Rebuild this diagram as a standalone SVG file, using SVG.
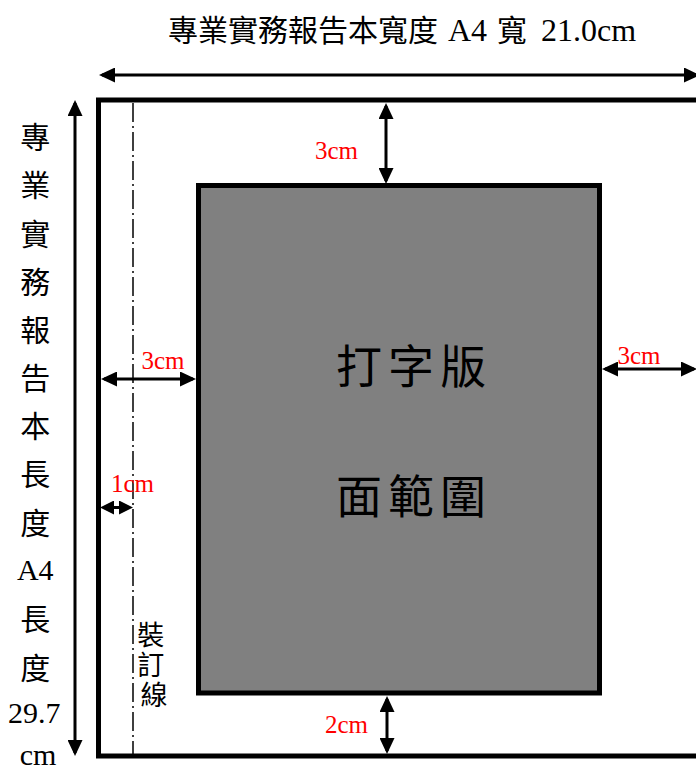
<svg xmlns="http://www.w3.org/2000/svg" width="696" height="771" viewBox="0 0 696 771">
  <style>
    .cjk { font-family: "Liberation Serif", "Noto Sans CJK TC", sans-serif; fill: #000; }
    .red { font-family: "Liberation Serif", "Noto Sans CJK TC", serif; fill: #FF0000; font-size: 25px; }
    .dim { stroke: #000; stroke-width: 3; fill: none; marker-start: url(#ah); marker-end: url(#ah); }
    .dim-s { stroke: #000; stroke-width: 3; fill: none; marker-start: url(#ahs); marker-end: url(#ahs); }
  </style>
  <defs>
    <marker id="ah" markerUnits="userSpaceOnUse" markerWidth="16" markerHeight="15" refX="13" refY="7.5" orient="auto-start-reverse" viewBox="0 0 16 15">
      <path d="M0,0 L16,7.5 L0,15 z" fill="#000"/>
    </marker>
    <marker id="ahs" markerUnits="userSpaceOnUse" markerWidth="14" markerHeight="14" refX="11" refY="7" orient="auto-start-reverse" viewBox="0 0 14 14">
      <path d="M0,0 L14,7 L0,14 z" fill="#000"/>
    </marker>
  </defs>
  <rect x="0" y="0" width="696" height="771" fill="#fff"/>

  <g id="title">
    <text class="cjk" y="41" font-size="30"><tspan x="168">專業實務報告本寬度</tspan><tspan x="448" font-size="32">A4</tspan><tspan x="497">寬</tspan><tspan x="541" font-size="32">21.0cm</tspan></text>
  </g>

  <g id="page">
    <rect x="98.5" y="100" width="640" height="656" fill="#fff" stroke="#000" stroke-width="5"/>
  </g>

  <g id="gutter-line">
    <line x1="133" y1="103" x2="133" y2="754" stroke="#000" stroke-width="1.5" stroke-dasharray="19 4 2 4"/>
  </g>

  <g id="binding-label">
    <text class="cjk" font-size="27" text-anchor="middle">
      <tspan x="154" y="645">裝</tspan>
      <tspan x="154" y="675">訂</tspan>
      <tspan x="154" y="705">線</tspan>
    </text>
  </g>

  <g id="type-area">
    <rect x="198.5" y="185.5" width="401" height="507.5" fill="#808080" stroke="#000" stroke-width="5"/>
    <text class="cjk" font-size="46" letter-spacing="6" text-anchor="middle" x="414" y="383">打字版</text>
    <text class="cjk" font-size="46" letter-spacing="6" text-anchor="middle" x="414" y="513">面範圍</text>
  </g>

  <g id="length-label">
    <text class="cjk" font-size="30" text-anchor="middle">
      <tspan x="39" y="148">專</tspan>
      <tspan x="39" y="196">業</tspan>
      <tspan x="39" y="245">實</tspan>
      <tspan x="39" y="293">務</tspan>
      <tspan x="39" y="341">報</tspan>
      <tspan x="39" y="389">告</tspan>
      <tspan x="39" y="437">本</tspan>
      <tspan x="39" y="485">長</tspan>
      <tspan x="39" y="534">度</tspan>
      <tspan x="39" y="580">A4</tspan>
      <tspan x="39" y="630">長</tspan>
      <tspan x="39" y="679">度</tspan>
      <tspan x="38" y="723">29.7</tspan>
      <tspan x="38" y="765">cm</tspan>
    </text>
  </g>

  <g id="connectors">
    <line class="dim" x1="102" y1="75" x2="697" y2="75"/>
    <line class="dim" x1="75" y1="103" x2="75" y2="753"/>
    <line class="dim" x1="386" y1="106" x2="386" y2="181"/>
    <line class="dim" x1="104" y1="379" x2="193" y2="379"/>
    <line class="dim" x1="605" y1="369" x2="694" y2="369"/>
    <line class="dim-s" x1="103" y1="507.5" x2="130" y2="507.5"/>
    <line class="dim" x1="387" y1="699" x2="387" y2="751"/>
  </g>

  <g id="dimension-labels">
    <text class="red" x="315" y="159">3cm</text>
    <text class="red" x="141.5" y="369">3cm</text>
    <text class="red" x="617.5" y="364">3cm</text>
    <text class="red" x="111" y="492">1cm</text>
    <text class="red" x="325" y="733">2cm</text>
  </g>
</svg>
